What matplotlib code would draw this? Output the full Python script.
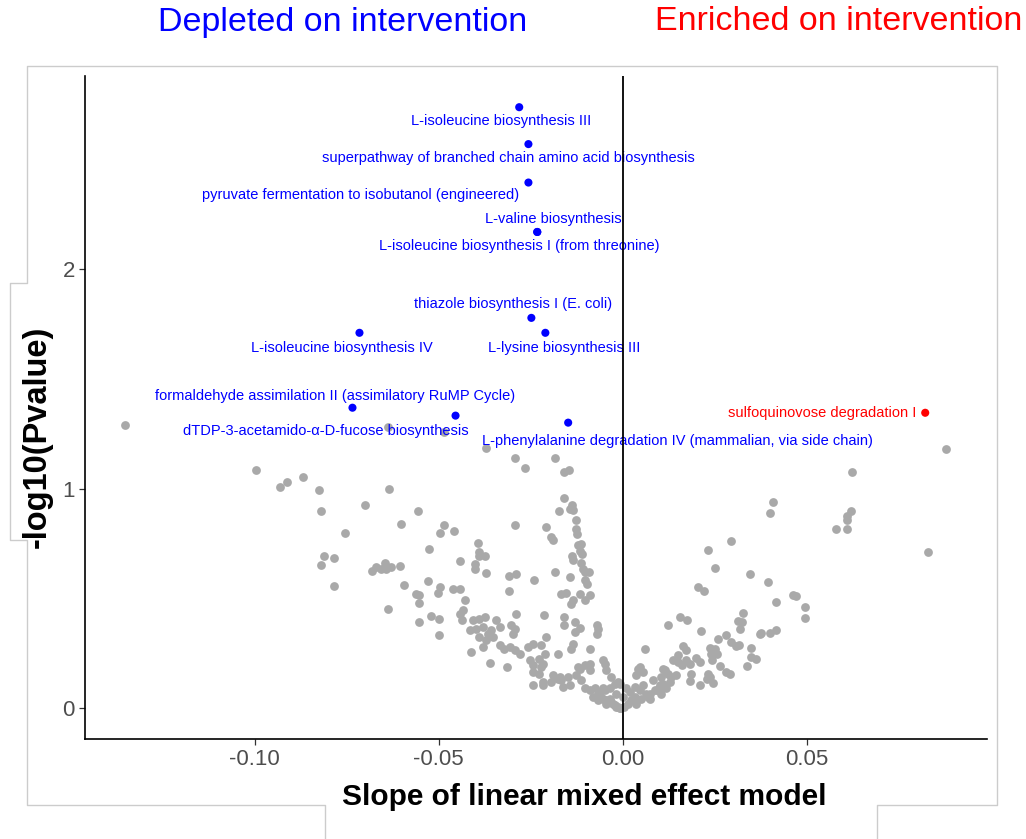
import matplotlib
matplotlib.use("Agg")
import matplotlib.pyplot as plt
from matplotlib.lines import Line2D

plt.rcParams["font.family"] = ["Liberation Sans", "DejaVu Sans"]

# Background pathways (slope, -log10 p)
gray_x = [
    -0.1351, -0.0995, -0.0932, -0.0912, -0.0869, -0.0824, -0.0819, -0.0812, -0.0783, -0.0819,
    -0.0783, -0.0638, -0.0484, -0.0370, -0.0292, -0.0264, -0.0185, -0.0158, -0.0146, -0.0634,
    -0.0700, -0.0555, -0.0755, -0.0601, -0.0486, -0.0495, -0.0458, -0.0525, -0.0394, -0.0389,
    -0.0375, -0.0390, -0.0442, -0.0402, -0.0400, -0.0370, -0.0292, -0.0207, -0.0194, -0.0188,
    -0.0158, -0.0174, -0.0144, -0.0137, -0.0135, -0.0126, -0.0126, -0.0124, -0.0121, -0.0112,
    -0.0117, -0.0137, -0.0135, -0.0110, -0.0112, -0.0108, -0.0103, -0.0092, -0.0185, -0.0144,
    -0.0103, -0.0097, -0.0309, -0.0291, -0.0242, -0.0309, -0.0680, -0.0669, -0.0656, -0.0645,
    -0.0642, -0.0629, -0.0606, -0.0594, -0.0638, -0.0561, -0.0552, -0.0554, -0.0529, -0.0497,
    -0.0502, -0.0461, -0.0443, -0.0429, -0.0434, -0.0443, -0.0437, -0.0522, -0.0498, -0.0552,
    -0.0498, -0.0411, -0.0361, -0.0313, -0.0407, -0.0389, -0.0375, -0.0416, -0.0398, -0.0380,
    -0.0366, -0.0357, -0.0389, -0.0370, -0.0380, -0.0352, -0.0343, -0.0334, -0.0302, -0.0293,
    -0.0298, -0.0291, -0.0214, -0.0207, -0.0334, -0.0321, -0.0307, -0.0293, -0.0280, -0.0257,
    -0.0244, -0.0221, -0.0212, -0.0176, -0.0158, -0.0158, -0.0130, -0.0117, -0.0130, -0.0071,
    -0.0071, -0.0090, -0.0135, -0.0139, -0.0253, -0.0244, -0.0226, -0.0217, -0.0244, -0.0121,
    -0.0103, -0.0090, -0.0090, -0.0189, -0.0171, -0.0149, -0.0167, -0.0153, -0.0135, -0.0139,
    -0.0115, -0.0090, -0.0103, -0.0067, -0.0221, -0.0226, -0.0244, -0.0217, -0.0176, -0.0167,
    -0.0162, -0.0144, -0.0126, -0.0117, -0.0112, -0.0103, -0.0090, -0.0076, -0.0067, -0.0058,
    -0.0044, -0.0035, -0.0026, -0.0017, -0.0008, -0.0054, -0.0044, -0.0031, -0.0008, -0.0017,
    -0.0035, -0.0054, 0.0042, -0.0049, 0.0046, 0.0055, 0.0037, 0.0082, 0.0105, 0.0114,
    0.0123, -0.0194, -0.0217, -0.0063, -0.0049, -0.0022, -0.0013, -0.0081, -0.0067, -0.0054,
    -0.0044, -0.0031, -0.0022, -0.0013, -0.0008, 0.0005, 0.0014, 0.0024, 0.0033, 0.0019,
    0.0033, 0.0046, 0.0055, 0.0064, 0.0073, 0.0051, 0.0037, 0.0087, 0.0101, 0.0110,
    0.0119, 0.0010, 0.0001, 0.0061, 0.0293, 0.0233, 0.0250, 0.0347, 0.0206, 0.0220,
    0.0122, 0.0155, 0.0176, 0.0213, 0.0327, 0.0313, 0.0323, 0.0318, 0.0260, 0.0282,
    0.0295, 0.0309, 0.0316, 0.0164, 0.0171, 0.0236, 0.0250, 0.0255, 0.0241, 0.0350,
    0.0350, 0.0363, 0.0339, 0.0137, 0.0150, 0.0150, 0.0160, 0.0173, 0.0198, 0.0209,
    0.0182, 0.0244, 0.0264, 0.0282, 0.0291, 0.0187, 0.0182, 0.0209, 0.0232, 0.0236,
    0.0229, 0.0245, 0.0110, 0.0128, 0.0132, 0.0146, 0.0101, 0.0105, 0.0092, 0.0069,
    0.0073, 0.0372, 0.0878, 0.0624, 0.0409, 0.0399, 0.0620, 0.0610, 0.0610, 0.0579,
    0.0610, 0.0830, 0.0396, 0.0416, 0.0463, 0.0472, 0.0495, 0.0495, 0.0376, 0.0401,
    0.0416,
]
gray_y = [
    1.288, 1.083, 1.006, 1.029, 1.053, 0.994, 0.899, 0.692, 0.682, 0.651,
    0.556, 1.279, 1.256, 1.183, 1.138, 1.094, 1.138, 1.074, 1.085, 0.999,
    0.923, 0.900, 0.797, 0.840, 0.832, 0.799, 0.806, 0.726, 0.751, 0.710,
    0.691, 0.691, 0.670, 0.658, 0.635, 0.615, 0.833, 0.827, 0.779, 0.764,
    0.958, 0.897, 0.908, 0.927, 0.903, 0.855, 0.814, 0.794, 0.741, 0.749,
    0.718, 0.695, 0.677, 0.703, 0.660, 0.635, 0.620, 0.620, 0.620, 0.597,
    0.585, 0.564, 0.600, 0.612, 0.582, 0.532, 0.624, 0.642, 0.635, 0.660,
    0.632, 0.642, 0.649, 0.560, 0.450, 0.521, 0.514, 0.480, 0.577, 0.551,
    0.526, 0.544, 0.541, 0.495, 0.449, 0.430, 0.400, 0.418, 0.406, 0.392,
    0.335, 0.256, 0.206, 0.188, 0.400, 0.408, 0.415, 0.355, 0.362, 0.370,
    0.340, 0.355, 0.324, 0.309, 0.279, 0.324, 0.400, 0.370, 0.377, 0.362,
    0.340, 0.430, 0.423, 0.324, 0.286, 0.271, 0.279, 0.264, 0.249, 0.279,
    0.294, 0.286, 0.249, 0.245, 0.415, 0.377, 0.392, 0.367, 0.347, 0.377,
    0.340, 0.271, 0.294, 0.271, 0.218, 0.195, 0.226, 0.203, 0.165, 0.188,
    0.195, 0.203, 0.173, 0.150, 0.142, 0.142, 0.521, 0.524, 0.491, 0.476,
    0.518, 0.514, 0.494, 0.362, 0.188, 0.158, 0.105, 0.105, 0.135, 0.127,
    0.097, 0.105, 0.150, 0.180, 0.127, 0.090, 0.082, 0.090, 0.067, 0.051,
    0.036, 0.044, 0.021, 0.006, 0.001, 0.218, 0.173, 0.142, 0.112, 0.067,
    0.090, 0.090, 0.180, 0.200, 0.188, 0.165, 0.150, 0.127, 0.142, 0.173,
    0.158, 0.120, 0.120, 0.074, 0.082, 0.112, 0.120, 0.051, 0.036, 0.044,
    0.021, 0.029, 0.014, 0.006, 0.002, 0.006, 0.021, 0.036, 0.051, 0.074,
    0.097, 0.082, 0.105, 0.067, 0.044, 0.044, 0.021, 0.082, 0.097, 0.112,
    0.090, 0.090, 0.051, 0.271, 0.762, 0.720, 0.638, 0.610, 0.551, 0.532,
    0.380, 0.414, 0.403, 0.350, 0.432, 0.397, 0.392, 0.362, 0.314, 0.332,
    0.301, 0.282, 0.286, 0.282, 0.264, 0.276, 0.271, 0.249, 0.249, 0.274,
    0.233, 0.226, 0.192, 0.218, 0.241, 0.210, 0.195, 0.218, 0.229, 0.210,
    0.203, 0.218, 0.191, 0.165, 0.158, 0.158, 0.123, 0.105, 0.158, 0.142,
    0.135, 0.115, 0.180, 0.120, 0.142, 0.150, 0.105, 0.067, 0.082, 0.051,
    0.067, 0.340, 1.182, 1.077, 0.941, 0.888, 0.900, 0.877, 0.855, 0.815,
    0.814, 0.711, 0.573, 0.483, 0.515, 0.510, 0.461, 0.411, 0.342, 0.344,
    0.358,
]

# Significant pathways
sig_names = [
    "L-isoleucine biosynthesis III",
    "superpathway of branched chain amino acid biosynthesis",
    "pyruvate fermentation to isobutanol (engineered)",
    "L-valine biosynthesis",
    "L-isoleucine biosynthesis I (from threonine)",
    "thiazole biosynthesis I (E. coli)",
    "L-isoleucine biosynthesis IV",
    "L-lysine biosynthesis III",
    "formaldehyde assimilation II (assimilatory RuMP Cycle)",
    "dTDP-3-acetamido-\u03b1-D-fucose biosynthesis",
    "L-phenylalanine degradation IV (mammalian, via side chain)",
    "sulfoquinovose degradation I",
]
sig_x = [-0.0281, -0.0256, -0.0256, -0.0232, -0.0232, -0.0248,
         -0.0715, -0.0210, -0.0734, -0.0454, -0.0148, 0.0822]
sig_y = [2.736, 2.568, 2.393, 2.168, 2.168, 1.777,
         1.709, 1.709, 1.368, 1.332, 1.300, 1.345]

# Label offsets from each point (pixels) and alignment
label_dx = [-18, -20, -168, 16, -18, -18, -18, 19, -17, -130, 109, -9]
label_dy = [-14, -14, -12, 13, -14, 14, -15, -15, 12, -15, -18, 0]
label_ha = ["center"] * 11 + ["right"]

x_ticks = [-0.10, -0.05, 0.00, 0.05]
x_ticklabels = ["-0.10", "-0.05", "0.00", "0.05"]
y_ticks = [0, 1, 2]

W, H = 1026, 839
fig = plt.figure(figsize=(W / 100, H / 100), dpi=100)
ax = fig.add_axes([84.5 / W, 1 - 739 / H, (986.7 - 84.5) / W, (739 - 76) / H])

ax.scatter(gray_x, gray_y, s=40, color="#A9A9A9", linewidths=0, zorder=2)

colors = ["#0000FF" if x < 0 else "#FF0000" for x in sig_x]
ax.scatter(sig_x, sig_y, s=34, c=colors, linewidths=0, zorder=3)

for name, x, y, dx, dy, ha, c in zip(sig_names, sig_x, sig_y, label_dx,
                                      label_dy, label_ha, colors):
    ax.annotate(name, (x, y), xytext=(dx, dy), textcoords="offset pixels",
                ha=ha, va="center", fontsize=10.5, color=c, zorder=4)

ax.axvline(0, color="black", lw=1.3, zorder=5)

ax.set_xlim(-0.1462, 0.0989)
ax.set_ylim(-0.140, 2.878)
ax.set_xticks(x_ticks)
ax.set_xticklabels(x_ticklabels)
ax.set_yticks(y_ticks)

for side in ["top", "right"]:
    ax.spines[side].set_visible(False)
for side in ["left", "bottom"]:
    ax.spines[side].set_linewidth(1.2)
    ax.spines[side].set_color("black")
ax.tick_params(axis="both", direction="out", length=4, width=0.9,
               color="#333333", labelcolor="#4D4D4D", labelsize=16, pad=3)

fig.text(584 / W, 1 - 797 / H, "Slope of linear mixed effect model",
         fontsize=21.5, fontweight="bold", ha="center", va="center")
fig.text(37 / W, 1 - 437 / H, "-log10(Pvalue)", fontsize=23.5,
         fontweight="bold", rotation=90, ha="center", va="center")

fig.text(342.5 / W, 1 - 22 / H, "Depleted on intervention", color="#0000FF",
         fontsize=24.5, ha="center", va="center")
fig.text(838.5 / W, 1 - 22 / H, "Enriched on intervention", color="#FF0000",
         fontsize=24.5, ha="center", va="center")

# Light outline around the panel
frame_pts = [(877, 839), (877, 805), (997, 805), (997, 66), (27, 66), (27, 283),
             (10, 283), (10, 540), (27, 540), (27, 805), (325, 805), (325, 839)]
fx = [p[0] / W for p in frame_pts]
fy = [1 - p[1] / H for p in frame_pts]
fig.add_artist(Line2D(fx, fy, transform=fig.transFigure, color="#CCCCCC", lw=1.0))

fig.savefig("out.png", dpi=100)
